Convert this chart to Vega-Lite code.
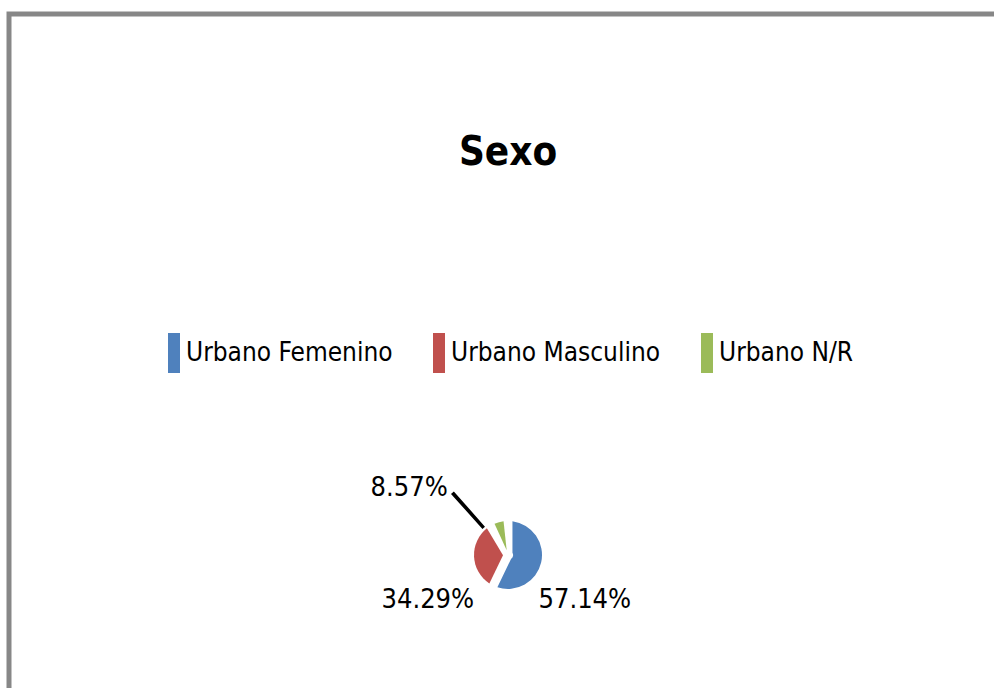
{
  "$schema": "https://vega.github.io/schema/vega-lite/v6.json",
  "width": 998,
  "height": 1082,
  "autosize": {"type": "none"},
  "padding": {"left": 9, "top": 14, "right": -13, "bottom": -408},
  "background": "white",
  "config": {
    "view": {"stroke": "#878787", "strokeWidth": 5},
    "font": "DejaVu Sans Condensed"
  },
  "title": {
    "text": "Sexo",
    "orient": "top",
    "anchor": "middle",
    "frame": "group",
    "offset": -162,
    "fontSize": 40,
    "fontWeight": "bold",
    "color": "#000000",
    "font": "DejaVu Sans Condensed"
  },
  "data": {
    "values": [
      {"sexo": "Urbano Femenino", "pct": 0.5714},
      {"sexo": "Urbano Masculino", "pct": 0.3429},
      {"sexo": "Urbano N/R", "pct": 0.0857}
    ]
  },
  "layer": [
    {
      "mark": {"type": "point", "opacity": 0},
      "encoding": {
        "x": {"datum": 0, "type": "quantitative", "axis": null},
        "y": {"datum": 0, "type": "quantitative", "axis": null}
      }
    },
    {
      "mark": {"type": "arc", "outerRadius": 34, "innerRadius": 5, "padAngle": 0.26},
      "encoding": {
        "theta": {"field": "pct", "type": "quantitative", "stack": true},
        "order": {"field": "sexo", "type": "nominal"},
        "color": {
          "field": "sexo",
          "type": "nominal",
          "scale": {
            "domain": ["Urbano Femenino", "Urbano Masculino", "Urbano N/R"],
            "range": ["#4F81BD", "#C0504D", "#9BBB59"]
          },
          "legend": {
            "orient": "none",
            "legendX": 159,
            "legendY": 319,
            "direction": "horizontal",
            "title": null,
            "symbolType": "M-1,-1H-0.4V1H-1Z",
            "symbolSize": 1600,
            "symbolStrokeWidth": 0,
            "symbolOpacity": 1,
            "labelOffset": -22,
            "columnPadding": 40,
            "labelFontSize": 26,
            "labelColor": "#000000",
            "labelLimit": 400,
            "padding": 0
          }
        }
      }
    },
    {
      "transform": [{"filter": "datum.sexo === 'Urbano N/R'"}],
      "mark": {"type": "arc", "theta": 5.55, "theta2": 5.56, "radius": 82, "radius2": 38, "color": "#000000", "stroke": "#000000", "strokeWidth": 3},
      "encoding": {}
    },
    {
      "transform": [{"filter": "datum.sexo === 'Urbano N/R'"}],
      "mark": {"type": "text", "theta": 5.55, "radius": 90, "align": "right", "baseline": "middle", "fontSize": 27, "color": "#000000"},
      "encoding": {"text": {"field": "pct", "type": "quantitative", "format": ".2%"}}
    },
    {
      "transform": [{"filter": "datum.sexo === 'Urbano Femenino'"}],
      "mark": {"type": "text", "theta": 2.1, "radius": 89, "align": "center", "baseline": "middle", "fontSize": 27, "color": "#000000"},
      "encoding": {"text": {"field": "pct", "type": "quantitative", "format": ".2%"}}
    },
    {
      "transform": [{"filter": "datum.sexo === 'Urbano Masculino'"}],
      "mark": {"type": "text", "theta": 4.2, "radius": 92, "align": "center", "baseline": "middle", "fontSize": 27, "color": "#000000"},
      "encoding": {"text": {"field": "pct", "type": "quantitative", "format": ".2%"}}
    }
  ]
}
